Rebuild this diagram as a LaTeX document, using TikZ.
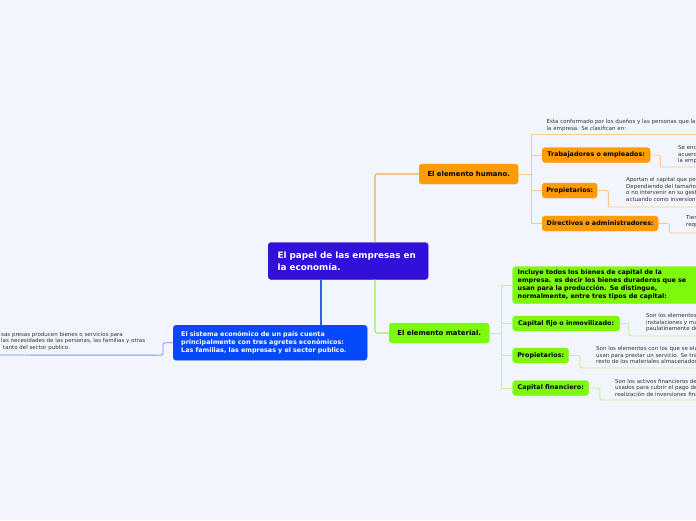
\documentclass[tikz,border=0pt]{standalone}
\usepackage{fontspec}
\setmainfont{DejaVu Sans}
\usetikzlibrary{calc}
\definecolor{bg}{HTML}{F3F5FD}
\definecolor{cen}{HTML}{3210D8}
\definecolor{orgF}{HTML}{FE9C08}
\definecolor{grnF}{HTML}{7DFA0C}
\definecolor{bluF}{HTML}{0449FC}
\definecolor{orgM}{HTML}{F8A84E}
\definecolor{orgB}{HTML}{F9C88C}
\definecolor{grnM}{HTML}{9CF04A}
\definecolor{grnB}{HTML}{C0F690}
\definecolor{bluM}{HTML}{2E62E8}
\definecolor{bluB}{HTML}{7090F0}
\definecolor{txt}{HTML}{333333}
\begin{document}
\begin{tikzpicture}[x=1pt,y=-1pt]
\tikzset{
  basebox/.style={rounded corners=3pt, inner ysep=0pt, inner xsep=0pt, font=\bfseries\fontsize{6.4}{8}\selectfont},
  obox/.style={basebox, fill=orgF, draw=orgF, text=black, minimum height=15},
  gbox/.style={basebox, fill=grnF, draw=grnF, text=black, minimum height=15},
  bigfont/.style={font=\bfseries\fontsize{6.9}{8.5}\selectfont},
  note/.style={inner sep=0pt, anchor=north west, align=left, text=txt, font=\fontsize{5.5}{6.5}\selectfont},
  oMain/.style={draw=orgM, line width=1.1pt, rounded corners=2pt},
  oBr/.style={draw=orgB, line width=0.9pt, rounded corners=2pt},
  gMain/.style={draw=grnM, line width=1.1pt, rounded corners=2pt},
  gBr/.style={draw=grnB, line width=0.9pt, rounded corners=2pt},
  bMain/.style={draw=bluM, line width=1.1pt},
  bBr/.style={draw=bluB, line width=0.9pt, rounded corners=2pt}
}
\useasboundingbox (0,0) rectangle (696,520);
\fill[bg] (0,0) rectangle (696,520);
\clip (0,0) rectangle (696,520);

% central
\node[rounded corners=3pt, fill=cen, draw=cen, text=white, anchor=north west,
      font=\bfseries\fontsize{8.8}{11.5}\selectfont, align=left, text width=141,
      inner xsep=9.5pt, inner ysep=0pt, minimum height=37] (central) at (268,242.3)
      {El papel de las empresas en\\la economía.};

% orange branch
\node[obox, bigfont, minimum width=99, minimum height=20, anchor=west] (humano) at (419,174) {El elemento humano.};
\node[obox, minimum width=108, anchor=west] (tr) at (542,155) {Trabajadores o empleados:};
\node[obox, minimum width=55, anchor=west] (po) at (542,190.5) {Propietarios:};
\node[obox, minimum width=116, anchor=west] (di) at (542,223.5) {Directivos o administradores:};

% green branch
\node[gbox, bigfont, minimum width=100, minimum height=20, anchor=west] (mat) at (389,333) {El elemento material.};
\node[gbox, anchor=north west, align=left, text width=190, inner xsep=5pt, minimum height=37] (inc) at (512.5,266.5)
  {Incluye todos los bienes de capital de la\\empresa. es decir los bienes duraderos que se\\usan para la producción. Se distingue,\\normalmente, entre tres tipos de capital:};
\node[gbox, minimum width=107, anchor=west] (cf) at (512.5,323.5) {Capital fijo o inmovilizado:};
\node[gbox, minimum width=56, anchor=west] (pg) at (512.5,355.5) {Propietarios:};
\node[gbox, minimum width=76, anchor=west] (cfin) at (512.5,388) {Capital financiero:};

% blue branch
\node[rounded corners=3pt, fill=bluF, draw=bluF, text=white, anchor=north west,
      font=\bfseries\fontsize{6.4}{8.1}\selectfont, align=left, text width=178,
      inner xsep=8pt, inner ysep=0pt, minimum height=35] (sis) at (173,325)
      {El sistema económico de un país cuenta\\principalmente con tres agretes económicos:\\Las familias, las empresas y el sector publico.};

% notes
\node[note] (n0) at (546.5,119.5) {Esta conformado por los dueños y las personas que laboran en\\la empresa. Se clasifican en:};
\node[note] (n1) at (678,145.5) {Se encuentran\\acuerdo con\\la empresa};
\node[note] (n2) at (626,177.5) {Aportan el capital que permite\\Dependiendo del tamaño de\\o no intervenir en su gestión\\actuando como inversionistas};
\node[note] (n3) at (686,215.5) {Tienen\\requieren};
\node[note] (n4) at (646,313.5) {Son los elementos\\instalaciones y maquinaria\\paulatinamente de};
\node[note] (n5) at (596,346.5) {Son los elementos con los que se elabora\\usan para prestar un servicio. Se trata\\resto de los materiales almacenados};
\node[note] (n6) at (615,379) {Son los activos financieros de\\usados para cubrir el pago de\\realización de inversiones financieras};
\node[note] (n7) at (1,332) {sas presas producen bienes o servicios para\\las necesidades de las personas, las familias y otras\\\hspace*{2pt}tanto del sector publico.};

% free ends
\coordinate (hb) at (531,174);
\coordinate (hTop) at (531,134.5);
\coordinate (hTopEnd) at (705,134.5);
\coordinate (e1) at (705,167);
\coordinate (e2) at (705,207);
\coordinate (e3) at (705,233);
\coordinate (gb) at (501,333);
\coordinate (e4) at (705,336);
\coordinate (e5) at (705,368);
\coordinate (e6) at (705,400);
\coordinate (lEnd) at (-5,355);
\coordinate (ct) at ($(central.north west)+(107,0)$);
\coordinate (cg) at ($(central.south west)+(107,0)$);
\coordinate (cb) at ($(central.south west)+(53,0)$);

% main connectors
\draw[oMain] (ct) |- (humano.west);
\draw[gMain] (cg) |- (mat.west);
\draw[bMain] (cb) -- (cb |- sis.north);
\draw[bBr] (sis.west) -- ++(-10,0) -- ++(0,12.5) -- (lEnd);

% orange sub-connectors
\draw[oBr] (humano.east) -- (hb);
\draw[oBr] (hTop) -- (hb |- di.west);
\draw[oBr] (hTop) -- (hTopEnd);
\draw[oBr] (hb |- tr.west) -- (tr.west);
\draw[oBr] (hb |- po.west) -- (po.west);
\draw[oBr] (hb |- di.west) -- (di.west);
\draw[oBr] (tr.east) -- ++(10,0) -- ++(0,12) -- (e1);
\draw[oBr] (po.east) -- ++(11,0) -- ++(0,16.5) -- (e2);
\draw[oBr] (di.east) -- ++(11,0) -- ++(0,9.5) -- (e3);

% green sub-connectors
\draw[gBr] (mat.east) -- (gb);
\draw[gBr] (gb |- inc.west) -- (gb |- cfin.west);
\draw[gBr] (gb |- inc.west) -- (inc.west);
\draw[gBr] (gb |- cf.west) -- (cf.west);
\draw[gBr] (gb |- pg.west) -- (pg.west);
\draw[gBr] (gb |- cfin.west) -- (cfin.west);
\draw[gBr] (cf.east) -- ++(9,0) -- ++(0,12.5) -- (e4);
\draw[gBr] (pg.east) -- ++(11,0) -- ++(0,12.5) -- (e5);
\draw[gBr] (cfin.east) -- ++(11,0) -- ++(0,12) -- (e6);
\end{tikzpicture}
\end{document}
